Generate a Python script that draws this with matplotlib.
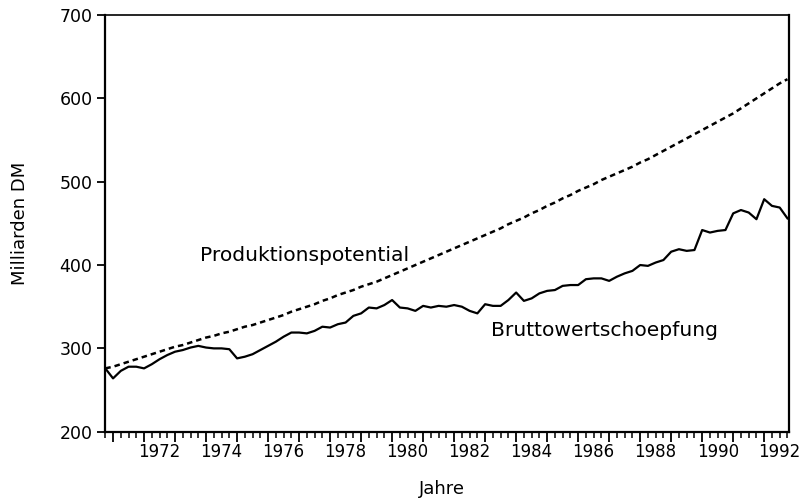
import matplotlib
matplotlib.use("Agg")
import matplotlib.pyplot as plt
import numpy as np
from matplotlib.ticker import MultipleLocator

# quarterly data, 1970 Q4 .. 1992 Q4
start_year = 1970.75
brutto = [276, 264, 273, 278, 278, 276, 281, 287, 292, 296,
          298, 301, 303, 301, 300, 300, 299, 288, 290, 293,
          298, 303, 308, 314, 319, 319, 318, 321, 326, 325,
          329, 331, 339, 342, 349, 348, 352, 358, 349, 348,
          345, 351, 349, 351, 350, 352, 350, 345, 342, 353,
          351, 351, 358, 367, 357, 360, 366, 369, 370, 375,
          376, 376, 383, 384, 384, 381, 386, 390, 393, 400,
          399, 403, 406, 416, 419, 417, 418, 442, 439, 441,
          442, 462, 466, 463, 455, 479, 471, 469, 456]
potential = [276, 278, 281, 284, 287, 290, 293, 296, 299, 302,
             304, 307, 310, 313, 315, 318, 320, 323, 326, 328,
             331, 334, 337, 340, 344, 347, 350, 353, 357, 360,
             364, 367, 370, 374, 377, 380, 384, 388, 392, 396,
             400, 404, 408, 412, 416, 420, 424, 428, 432, 436,
             440, 444, 449, 453, 457, 462, 466, 471, 475, 480,
             484, 489, 493, 497, 502, 506, 510, 514, 518, 523,
             527, 532, 537, 542, 547, 552, 557, 562, 567, 572,
             577, 582, 588, 594, 600, 606, 612, 618, 623]
year_labels = list(range(1972, 1993, 2))

t = start_year + 0.25 * np.arange(len(brutto))

fig = plt.figure(figsize=(8.02, 5.01), dpi=100)
ax = fig.add_axes([0.1309, 0.1383, 0.8529, 0.8317])

ax.plot(t, brutto, color="black", lw=1.6)
ax.plot(t, potential, color="black", lw=1.8, linestyle=(0, (2.2, 1.6)))

ax.set_xlim(1970.74, 1992.8)
ax.set_ylim(200, 700)

for s in ax.spines.values():
    s.set_linewidth(1.6)
ax.spines["top"].set_linewidth(1.2)

ax.yaxis.set_major_locator(MultipleLocator(100))
ax.tick_params(axis="y", direction="out", length=6, width=1.3, labelsize=12.5, pad=3)

ax.xaxis.set_major_locator(MultipleLocator(1))
ax.xaxis.set_minor_locator(MultipleLocator(0.25))
ax.tick_params(axis="x", which="major", direction="out", length=7, width=1.3,
               labelbottom=False)
ax.tick_params(axis="x", which="minor", direction="out", length=4, width=1.1)

# year labels centred on the middle of the year
trans = ax.get_xaxis_transform()
for yr in year_labels:
    ax.text(yr + 0.5, -0.027, str(yr), transform=trans, ha="center", va="top",
            fontsize=12)

ax.set_ylabel("Milliarden DM", fontsize=13, labelpad=22)
ax.text(0.493, -0.115, "Jahre", transform=ax.transAxes, ha="center", va="top",
        fontsize=13)

ax.text(1973.8, 412, "Produktionspotential", fontsize=14.6, ha="left", va="center")
ax.text(1983.2, 322, "Bruttowertschoepfung", fontsize=14.6, ha="left", va="center")

fig.savefig("out.png", dpi=100)
